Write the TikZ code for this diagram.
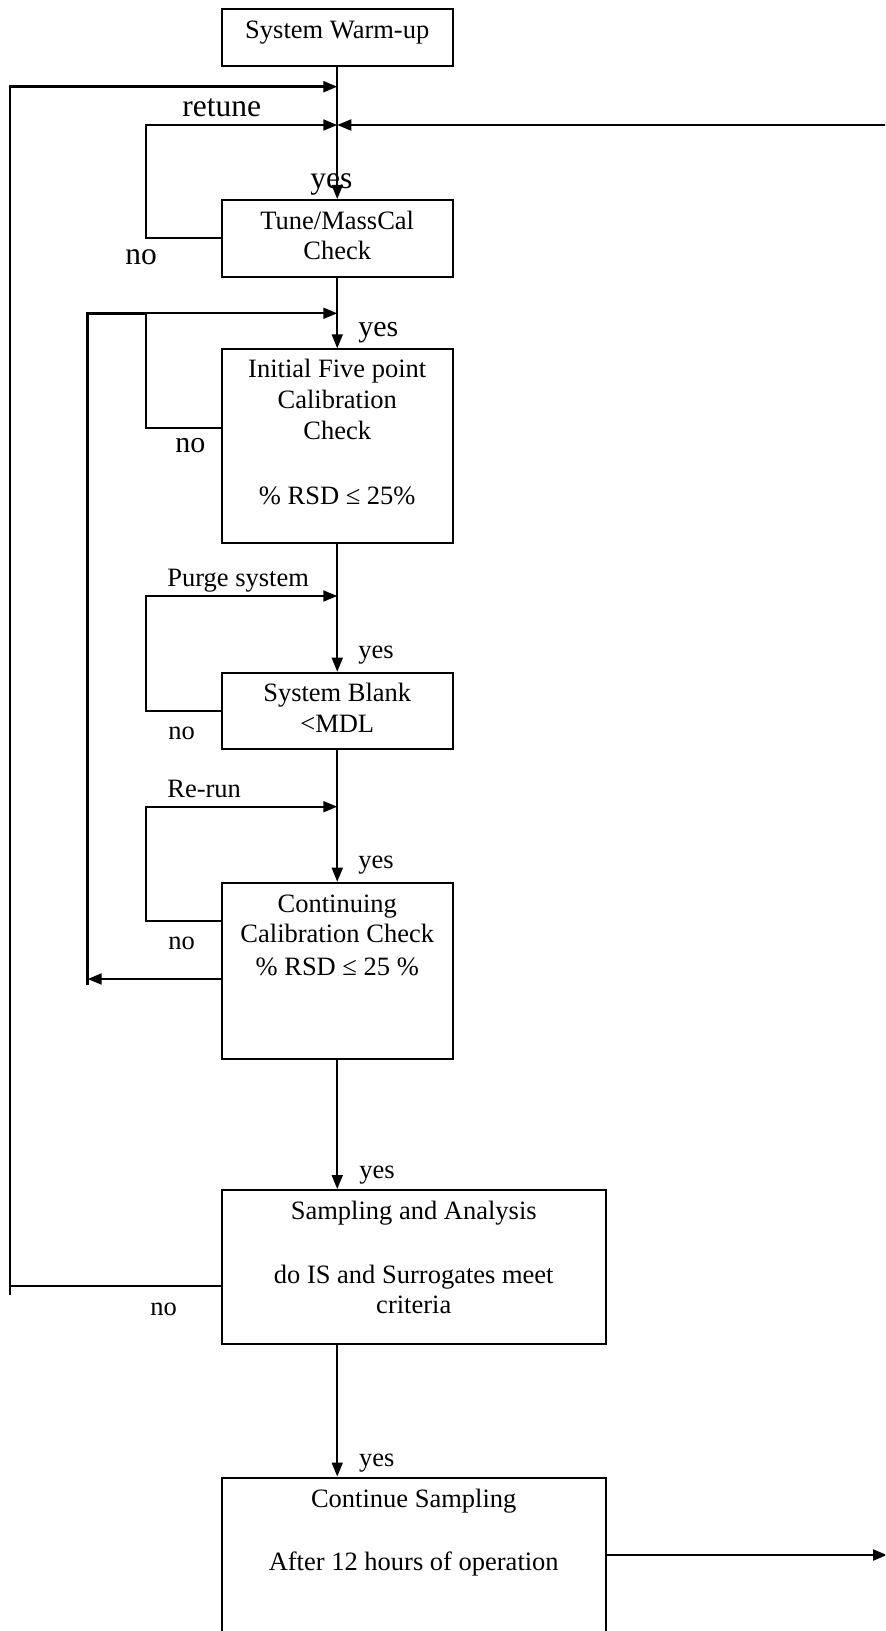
\documentclass[tikz,border=0pt]{standalone}
\usepackage{fontspec}
\setmainfont{Liberation Serif}
\usetikzlibrary{arrows.meta}
\begin{document}
\begin{tikzpicture}[x=0.5pt,y=-0.5pt,
  box/.style={draw,line width=1pt,inner sep=0pt},
  txt/.style={inner sep=0pt,anchor=base,font=\fontsize{13.25}{15}\selectfont},
  lbl/.style={inner sep=0pt,anchor=base west,font=\fontsize{13.25}{15}\selectfont},
  biglbl/.style={inner sep=0pt,anchor=base west,font=\fontsize{15.75}{18}\selectfont},
  midlbl/.style={inner sep=0pt,anchor=base west,font=\fontsize{15}{18}\selectfont},
  arr/.style={line width=0.85pt,-{Triangle[length=7pt,width=5.5pt]}},
  loopline/.style={line width=1pt},
  outerline/.style={line width=1.25pt}]
\clip (0,0) rectangle (885,1631);
\useasboundingbox (0,0) rectangle (885,1631);
% boxes
\node[box,minimum width=115.5pt,minimum height=28.75pt] (warm) at (337.25,37.75) {};
\node[box,minimum width=115.5pt,minimum height=38.5pt] (tune) at (337.25,238.5) {};
\node[box,minimum width=115.5pt,minimum height=97pt] (init) at (337.25,446.3) {};
\node[box,minimum width=115.5pt,minimum height=38.3pt] (blank) at (337.25,711) {};
\node[box,minimum width=115.5pt,minimum height=88.3pt] (cont) at (337.25,971) {};
\node[box,minimum width=191.75pt,minimum height=76.75pt] (samp) at (413.75,1266.75) {};
\node[box,minimum width=192pt,minimum height=111pt] (goon) at (413.75,1588.5) {};
% box texts
\node[txt] (warmT) at (337.25,38.3) {System Warm-up};
\node[txt] (tuneT1) at (337.25,229.5) {Tune/MassCal};
\node[txt] (tuneT2) at (337.25,259.5) {Check};
\node[txt] (initT1) at (337.25,378) {Initial Five point};
\node[txt] (initT2) at (337.25,408.5) {Calibration};
\node[txt] (initT3) at (337.25,439) {Check};
\node[txt] (initT4) at (337.25,504) {\% RSD ≤ 25\%};
\node[txt] (blankT1) at (337.25,701.5) {System Blank};
\node[txt] (blankT2) at (337.25,732.5) {<MDL};
\node[txt] (contT1) at (337.25,912) {Continuing};
\node[txt] (contT2) at (337.25,942) {Calibration Check};
\node[txt] (contT3) at (337.25,975) {\% RSD ≤ 25 \%};
\node[txt] (sampT1) at (413.75,1219) {Sampling and Analysis};
\node[txt] (sampT2) at (413.75,1283) {do IS and Surrogates meet};
\node[txt] (sampT3) at (413.75,1313) {criteria};
\node[txt] (goonT1) at (413.75,1507) {Continue Sampling};
\node[txt] (goonT2) at (413.75,1570) {After 12 hours of operation};
% labels
\node[biglbl] (lretune) at (182,116.7) {retune};
\node[biglbl] (lyes1) at (310,189) {yes};
\node[biglbl] (lno1) at (125,265) {no};
\node[midlbl] (lyes2) at (358,336) {yes};
\node[midlbl] (lno2) at (175,452) {no};
\node[lbl] (lpurge) at (167,586) {Purge system};
\node[lbl] (lyes3) at (358,658.5) {yes};
\node[lbl] (lno3) at (168,739.5) {no};
\node[lbl] (lrerun) at (167,797.5) {Re-run};
\node[lbl] (lyes4) at (358,868.5) {yes};
\node[lbl] (lno4) at (168,949) {no};
\node[lbl] (lyes5) at (359,1178) {yes};
\node[lbl] (lno5) at (150,1315) {no};
\node[lbl] (lyes6) at (358.6,1466) {yes};
% coordinates
\coordinate (jA) at (337.25,86.7);
\coordinate (jB) at (337.25,125);
\coordinate (jC) at (337.25,313.3);
\coordinate (jD) at (337.25,596);
\coordinate (jE) at (337.25,806.7);
\coordinate (xo) at (10,1295);
\coordinate (xi) at (145.5,0);
\coordinate (xm) at (87.7,985);
\coordinate (rin) at (890,125);
\coordinate (rout) at (887,1555);
\coordinate (yi) at (0,428.3);
\coordinate (yr) at (0,920.7);
\coordinate (yc) at (0,979);
\coordinate (ys) at (0,1286);
\coordinate (yo) at (0,1555);
% main flow
\draw[arr] (warm.south) -- (tune.north);
\draw[arr] (tune.south) -- (init.north);
\draw[arr] (init.south) -- (blank.north);
\draw[arr] (blank.south) -- (cont.north);
\draw[arr] (cont.south) -- (cont.south |- samp.north);
\draw[arr] (cont.south |- samp.south) -- (cont.south |- goon.north);
% loops
\draw[arr,loopline] (tune.west) -- (tune.west -| xi) |- (jB);
\draw[arr,loopline] (rin) -- (jB);
\draw[arr,loopline] (init.west |- yi) -- (xi |- yi) |- (jC);
\draw[arr,loopline] (blank.west) -- (blank.west -| xi) |- (jD);
\draw[arr,loopline] (cont.west |- yr) -- (xi |- yr) |- (jE);
\draw[arr,loopline] (cont.west |- yc) -- (xm |- yc);
\draw[outerline] (xm) -- (xm |- jC) -- (xi |- jC);
\draw[outerline] (samp.west |- ys) -- (xo |- ys);
\draw[arr,outerline] (xo) -- (xo |- jA) -- (jA);
\draw[arr,loopline] (goon.east |- yo) -- (rout);
\end{tikzpicture}
\end{document}
